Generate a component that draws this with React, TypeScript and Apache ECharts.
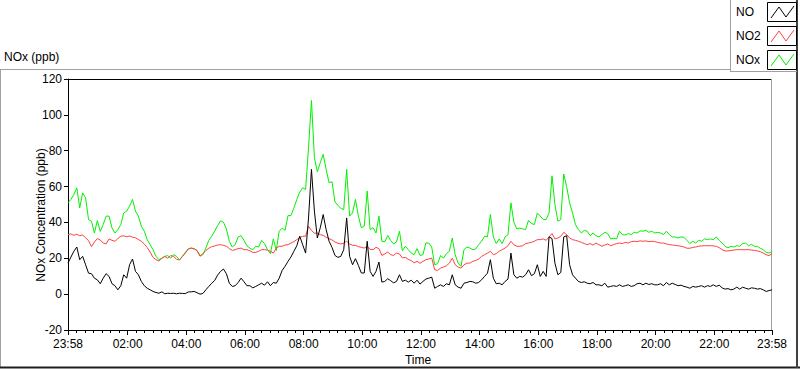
import React, { useEffect, useRef } from "react";
import * as echarts from "echarts";

// ---- data (6-minute samples starting at 23:58) ----
const STEP_MIN = 6;
const START_CLOCK_MIN = 23 * 60 + 58;

const noValues = [
  17.3, 20.7, 23.9, 26.3, 19.2, 21.1, 16.4, 11.7, 11.4, 8.9, 8.0, 5.8, 8.9, 11.4, 9.9, 5.8, 4.7, 2.4, 4.7, 10.8,
  8.9, 16.4, 19.6, 12.7, 10.8, 7.1, 4.7, 3.3, 2.4, 1.5, 0.9, 0.5, 1.3, 0.2, 0.5, 0.4, 0.5, 0.2, 0.5, 0.4,
  0.3, 1.2, 1.3, 1.5, 0.8, 0.0, 0.4, 2.4, 4.3, 6.1, 7.6, 10.6, 12.7, 14.0, 11.4, 6.1, 4.3, 4.7, 6.5, 8.9,
  6.9, 4.7, 4.7, 3.5, 4.3, 5.2, 6.1, 5.0, 6.9, 4.7, 6.5, 6.1, 8.9, 13.2, 15.5, 18.3, 20.7, 23.9, 27.0, 32.3,
  27.6, 22.9, 42.5, 69.6, 46.3, 31.3, 37.0, 44.4, 36.0, 29.5, 26.1, 21.6, 20.5, 21.1, 24.8, 42.5, 21.1, 16.4, 19.8, 16.0,
  11.8, 11.8, 29.5, 12.7, 9.9, 12.7, 17.9, 6.7, 7.1, 8.6, 7.5, 6.3, 7.1, 10.8, 7.1, 7.8, 6.7, 7.8, 6.1, 7.8, 5.6,
  7.1, 8.4, 8.9, 9.5, 3.3, 4.3, 5.2, 4.3, 5.8, 5.2, 10.8, 5.2, 3.9, 3.3, 6.1, 6.5, 7.1, 6.9, 6.1, 6.5,
  8.0, 9.9, 11.7, 19.2, 8.9, 5.8, 6.1, 5.2, 7.1, 8.4, 22.9, 10.8, 8.9, 9.9, 9.5, 10.8, 13.6, 10.3, 11.4, 16.4,
  9.9, 12.7, 9.9, 32.0, 31.0, 17.3, 10.8, 12.1, 31.9, 32.6, 16.4, 10.8, 8.9, 7.1, 6.5, 6.9, 6.1, 5.8, 6.5, 5.2,
  5.2, 4.7, 6.1, 3.9, 4.3, 4.7, 4.3, 5.2, 4.3, 4.7, 5.2, 4.3, 4.7, 5.8, 6.1, 5.2, 6.1, 5.4, 5.8, 5.2,
  5.2, 5.8, 4.7, 6.5, 5.2, 6.1, 5.4, 4.7, 5.0, 4.3, 3.9, 3.3, 4.3, 3.9, 4.3, 4.7, 3.9, 4.7, 4.3, 5.2,
  4.3, 5.0, 3.5, 2.8, 3.1, 2.4, 2.8, 3.9, 2.8, 3.9, 3.3, 2.8, 3.5, 3.3, 2.8, 3.1, 2.4, 1.5, 2.0, 2.4,
];

const no2Values = [
  33.2, 33.6, 32.8, 33.4, 32.6, 33.0, 31.5, 29.8, 26.5, 29.0, 31.0, 30.2, 28.5, 28.0, 30.8, 30.0, 29.5, 31.0, 32.3, 32.5,
  32.0, 32.4, 31.8, 31.4, 30.5, 29.5, 28.0, 26.0, 23.5, 20.5, 19.2, 18.5, 20.0, 21.0, 20.0, 21.5, 21.0, 19.5, 19.0, 21.0,
  22.9, 25.2, 25.7, 25.4, 24.2, 21.1, 22.6, 24.4, 25.6, 26.5, 26.9, 27.4, 27.6, 27.2, 26.7, 25.4, 24.4, 24.8, 25.4, 25.7,
  24.8, 24.8, 24.2, 23.3, 23.3, 23.9, 24.8, 24.8, 24.6, 23.9, 22.9, 25.7, 26.7, 26.7, 27.4, 27.6, 28.5, 29.3, 30.4, 31.5,
  32.3, 32.3, 37.9, 35.5, 34.0, 34.1, 33.2, 32.8, 31.7, 31.0, 30.2, 29.1, 28.4, 28.0, 28.4, 29.5, 28.0, 27.2, 27.2, 26.5,
  26.1, 25.7, 26.5, 25.0, 24.8, 26.1, 25.4, 21.6, 22.4, 23.5, 22.0, 21.6, 22.9, 22.4, 20.2, 20.5, 19.4, 18.7, 17.5, 18.3, 17.2,
  18.3, 19.2, 19.6, 20.1, 13.6, 13.2, 14.5, 15.1, 15.8, 17.3, 20.1, 16.4, 15.1, 14.5, 16.4, 17.3, 17.3, 18.3, 18.8, 19.6,
  21.1, 22.0, 22.9, 23.9, 22.0, 22.6, 23.9, 24.8, 25.7, 27.0, 29.5, 27.6, 26.7, 26.7, 27.0, 28.2, 28.5, 28.9, 29.5, 30.4,
  30.4, 30.8, 30.0, 31.9, 33.8, 30.8, 31.3, 32.3, 34.5, 33.2, 31.3, 30.4, 30.0, 29.5, 28.9, 28.2, 27.6, 28.2, 27.4, 28.5,
  27.6, 26.7, 27.4, 28.0, 27.0, 27.6, 28.2, 28.5, 28.2, 28.9, 28.5, 29.3, 29.5, 29.3, 29.7, 29.5, 29.7, 29.3, 29.5, 29.3,
  28.9, 28.5, 28.5, 28.0, 27.6, 27.4, 27.2, 27.0, 26.7, 26.3, 25.6, 25.6, 26.1, 26.3, 26.7, 26.9, 27.0, 27.0, 27.0, 26.9,
  26.7, 25.9, 24.8, 24.1, 24.1, 24.4, 24.6, 24.8, 24.8, 24.8, 24.8, 24.8, 24.6, 24.4, 24.1, 23.7, 22.9, 22.0, 21.5, 22.6,
];

const noxValues = [
  50.9, 52.8, 55.6, 59.3, 48.1, 56.5, 53.7, 41.6, 40.7, 34.1, 41.0, 35.0, 38.8, 43.5, 43.5, 36.9, 34.1, 36.0, 38.8, 45.3,
  46.3, 49.1, 52.8, 46.3, 43.5, 37.9, 35.1, 30.4, 27.6, 24.8, 21.1, 19.2, 20.1, 21.1, 21.5, 20.1, 22.0, 21.1, 19.2, 21.1,
  23.3, 25.2, 25.7, 25.2, 24.4, 21.5, 22.0, 25.7, 30.0, 32.3, 35.1, 38.2, 40.9, 40.1, 36.4, 29.5, 26.3, 27.6, 31.9, 32.6,
  30.0, 27.0, 25.6, 24.8, 26.7, 26.3, 30.0, 28.2, 24.8, 22.6, 30.8, 24.4, 35.1, 36.8, 35.6, 43.8, 43.8, 48.0, 52.8, 56.9,
  59.3, 58.4, 81.7, 108.0, 76.1, 68.3, 73.3, 78.0, 69.6, 62.1, 62.7, 51.5, 49.6, 47.8, 47.2, 69.6, 43.5, 45.3, 52.8, 43.5,
  37.0, 37.9, 57.5, 36.0, 37.0, 34.1, 43.5, 29.5, 29.1, 32.8, 29.9, 28.0, 29.1, 35.1, 24.2, 26.7, 24.8, 23.0, 22.0, 25.4, 21.6,
  22.0, 28.5, 28.5, 26.3, 16.4, 17.0, 21.5, 20.1, 22.6, 23.9, 31.3, 22.0, 17.3, 15.5, 24.8, 26.3, 25.7, 24.8, 25.2, 27.6,
  29.5, 32.3, 31.9, 44.4, 31.9, 28.2, 30.8, 28.2, 31.9, 33.2, 50.9, 40.1, 36.4, 36.9, 36.4, 36.0, 41.2, 39.4, 38.8, 45.3,
  43.5, 41.6, 41.6, 45.3, 66.0, 50.0, 40.7, 41.6, 67.0, 60.0, 50.9, 45.3, 38.8, 36.0, 34.1, 35.6, 35.1, 32.6, 34.1, 32.6,
  31.9, 33.2, 34.5, 33.8, 30.8, 31.2, 30.8, 35.1, 33.2, 33.0, 33.8, 33.2, 34.5, 34.1, 35.3, 35.1, 35.6, 34.5, 35.1, 34.1,
  34.5, 34.1, 33.2, 35.1, 33.2, 31.9, 31.9, 31.3, 31.9, 31.7, 30.0, 28.2, 29.5, 28.5, 30.0, 29.5, 30.8, 30.4, 30.8, 30.4,
  31.9, 30.0, 28.5, 26.7, 25.9, 26.7, 26.3, 27.0, 26.7, 28.2, 28.5, 27.0, 27.8, 26.7, 26.7, 25.6, 24.8, 23.3, 22.9, 23.9,
];

// minutes since 23:58 of the labelled times 23:58, 02:00, 04:00 ... 22:00, 23:58
const xMajorTicks = [0, 122, 242, 362, 482, 602, 722, 842, 962, 1082, 1202, 1322, 1440];
const yMin = -20;
const yMax = 120;
const yStep = 20;
const seriesNames = ["NO", "NO2", "NOx"];
const chartTitle = "NOx (ppb)";
const yAxisTitle = "NOx Concentration (ppb)";
const xAxisTitle = "Time";

const FONT = "'Liberation Sans', Arial, sans-serif";
const COLORS: Record<string, string> = { NO: "#000000", NO2: "#ff4040", NOx: "#00f000" };

function fmtTime(v: number): string {
  const m = Math.round(START_CLOCK_MIN + v) % 1440;
  const h = Math.floor(m / 60);
  const mm = m % 60;
  return String(h).padStart(2, "0") + ":" + String(mm).padStart(2, "0");
}

export default function App() {
  const ref = useRef<HTMLDivElement>(null);

  useEffect(() => {
    if (!ref.current) return;
    const chart = echarts.init(ref.current, null, { renderer: "svg" });
    const toPairs = (vals: number[]) => vals.map((v, i) => [i * STEP_MIN, v]);

    const minorTicks: number[] = [];
    for (let k = 0; k < xMajorTicks.length - 1; k++) {
      const a = xMajorTicks[k];
      const b = xMajorTicks[k + 1];
      for (let j = 1; j < 7; j++) minorTicks.push(a + ((b - a) * j) / 7);
    }

    const valuesByName: Record<string, number[]> = { NO: noValues, NO2: no2Values, NOx: noxValues };
    const drawOrder = ["NOx", "NO2", "NO"];

    const legendRowTops = [2, 26, 50];
    const legendGraphics: any[] = [];
    seriesNames.forEach((name, idx) => {
      const top = legendRowTops[idx];
      legendGraphics.push({
        type: "text",
        left: 736,
        top: top + 4,
        style: { text: name, fill: "#000", font: `12px ${FONT}` },
      });
      legendGraphics.push({
        type: "rect",
        shape: { x: 767.5, y: top + 0.5, width: 29, height: 19 },
        style: { fill: "#fff", stroke: "#000", lineWidth: 1 },
      });
      legendGraphics.push({
        type: "polyline",
        shape: {
          points: [
            [771, top + 16],
            [779, top + 5],
            [786, top + 15],
            [794, top + 4],
          ],
        },
        style: { stroke: COLORS[name], lineWidth: 1, fill: "none" },
      });
    });

    chart.setOption({
      animation: false,
      backgroundColor: "#ffffff",
      textStyle: { fontFamily: FONT },
      grid: { left: 68, right: 28, top: 79, bottom: 39, show: false },
      xAxis: [
        {
          type: "value",
          min: 0,
          max: 1440,
          position: "bottom",
          axisLine: { show: true, onZero: false, lineStyle: { color: "#000", width: 1 } },
          axisTick: { show: true, customValues: xMajorTicks, length: 5, lineStyle: { color: "#000" } },
          axisLabel: {
            customValues: xMajorTicks,
            formatter: (v: number) => fmtTime(v),
            color: "#000",
            fontSize: 12,
            fontFamily: FONT,
            margin: 8,
          },
          splitLine: { show: false },
        },
        {
          type: "value",
          min: 0,
          max: 1440,
          position: "bottom",
          axisLine: { show: false, onZero: false },
          axisTick: { show: true, customValues: minorTicks, length: 3, lineStyle: { color: "#000" } },
          axisLabel: { show: false },
          splitLine: { show: false },
        },
      ],
      yAxis: {
        type: "value",
        min: yMin,
        max: yMax,
        interval: yStep,
        axisLine: { show: true, onZero: false, lineStyle: { color: "#000", width: 1 } },
        axisTick: { show: true, length: 4, lineStyle: { color: "#000" } },
        axisLabel: { color: "#000", fontSize: 12, fontFamily: FONT, margin: 6 },
        splitLine: { show: false },
      },
      series: drawOrder.map((name) => ({
        name,
        type: "line",
        xAxisIndex: 0,
        data: toPairs(valuesByName[name]),
        showSymbol: false,
        symbol: "none",
        silent: true,
        lineStyle: { color: COLORS[name], width: 1 },
        itemStyle: { color: COLORS[name] },
      })),
      graphic: [
        // title
        { type: "text", left: 4, top: 51, style: { text: chartTitle, fill: "#000", font: `12px ${FONT}` } },
        // axis titles
        {
          type: "text",
          x: 41,
          y: 215,
          rotation: Math.PI / 2,
          style: { text: yAxisTitle, fill: "#000", font: `12px ${FONT}`, align: "center", verticalAlign: "middle" },
        },
        {
          type: "text",
          x: 418,
          y: 360,
          style: { text: xAxisTitle, fill: "#000", font: `12px ${FONT}`, align: "center", verticalAlign: "middle" },
        },
        // outer panel frame
        { type: "line", shape: { x1: 0, y1: 69.5, x2: 731, y2: 69.5 }, style: { stroke: "#a0a0a0", lineWidth: 1 } },
        { type: "line", shape: { x1: 0.5, y1: 69, x2: 0.5, y2: 367 }, style: { stroke: "#a0a0a0", lineWidth: 1 } },
        { type: "line", shape: { x1: 0, y1: 367.5, x2: 800, y2: 367.5 }, style: { stroke: "#202020", lineWidth: 2 } },
        { type: "line", shape: { x1: 797, y1: 0, x2: 797, y2: 368 }, style: { stroke: "#404040", lineWidth: 2 } },
        // legend box
        { type: "line", shape: { x1: 730.5, y1: 0, x2: 730.5, y2: 72 }, style: { stroke: "#a0a0a0", lineWidth: 1 } },
        { type: "line", shape: { x1: 730, y1: 71.5, x2: 797, y2: 71.5 }, style: { stroke: "#a0a0a0", lineWidth: 1 } },
        // plot frame (top black, right grey)
        { type: "line", shape: { x1: 68, y1: 79.5, x2: 772, y2: 79.5 }, style: { stroke: "#000", lineWidth: 1 } },
        { type: "line", shape: { x1: 771.5, y1: 79, x2: 771.5, y2: 330 }, style: { stroke: "#a0a0a0", lineWidth: 1 } },
        ...legendGraphics,
      ],
    });

    return () => chart.dispose();
  }, []);

  return (
    <div
      ref={ref}
      style={{ position: "fixed", left: 0, top: 0, width: 800, height: 369, background: "#fff" }}
    />
  );
}
